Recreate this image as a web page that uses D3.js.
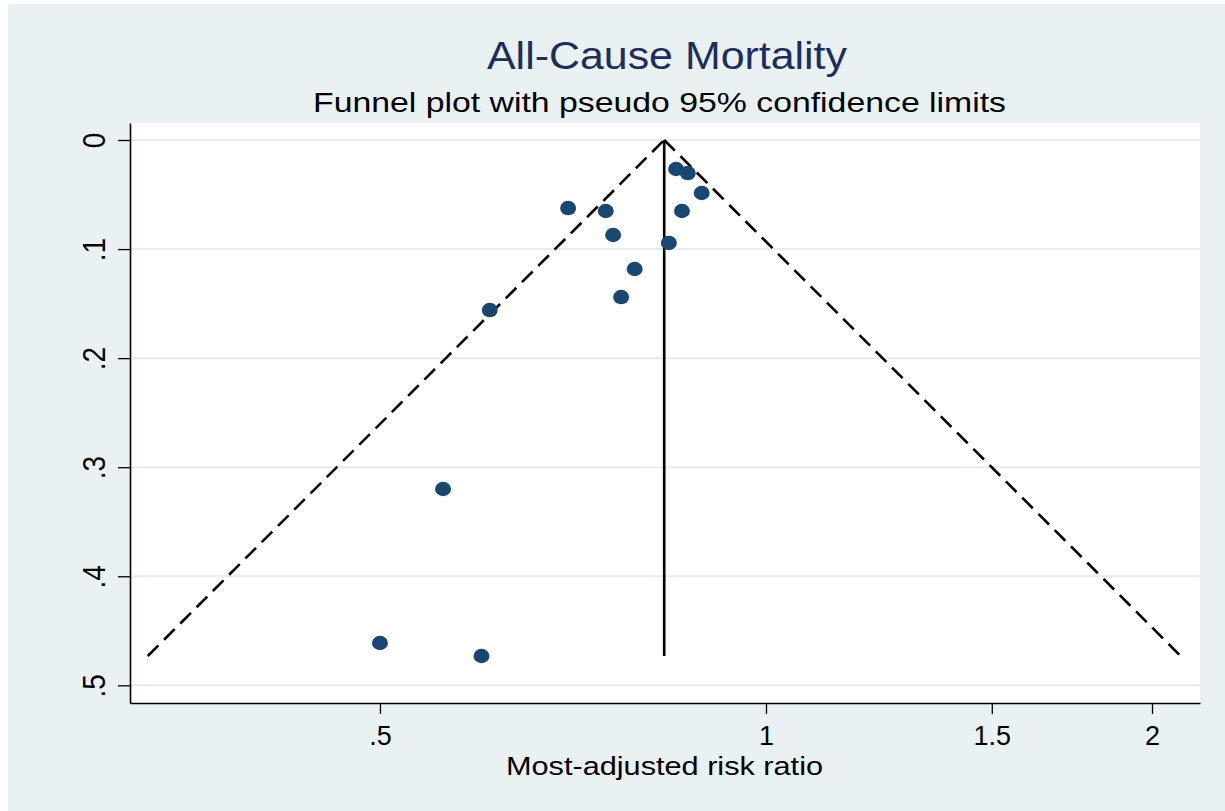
<!DOCTYPE html>
<html>
<head>
<meta charset="utf-8">
<script src="https://cdn.jsdelivr.net/npm/d3@7"></script>
<style>
  html, body { margin: 0; padding: 0; background: #ffffff; }
  svg { display: block; font-family: "Liberation Sans", Arial, sans-serif; }
</style>
</head>
<body>
<svg id="chart" width="1225" height="811"></svg>
<script>
// ---- Data ----
const riskRatio = [0.851, 0.869, 0.891, 0.860, 0.701, 0.750, 0.760, 0.840, 0.790, 0.771, 0.609, 0.560, 0.500, 0.600];
const stdError  = [0.0266, 0.0303, 0.0486, 0.0651, 0.0624, 0.0651, 0.0871, 0.0944, 0.1183, 0.1440, 0.1559, 0.3200, 0.4612, 0.4731];
const pooledRR = 0.833;
const xTicks = [0.5, 1, 1.5, 2];
const xTickLabels = [".5", "1", "1.5", "2"];
const yTicks = [0, 0.1, 0.2, 0.3, 0.4, 0.5];
const yTickLabels = ["0", ".1", ".2", ".3", ".4", ".5"];
const titleText = "All-Cause Mortality";
const subtitleText = "Funnel plot with pseudo 95% confidence limits";
const xTitleText = "Most-adjusted risk ratio";

// ---- Layout ----
const W = 1225, H = 811;
const plot = { left: 130, right: 1200, top: 123, bottom: 703 };
const svg = d3.select("#chart");

// background
svg.append("rect").attr("x", 0).attr("y", 0).attr("width", W).attr("height", H).attr("fill", "#ffffff");
svg.append("rect").attr("x", 8).attr("y", 4).attr("width", W - 8).attr("height", H - 4).attr("fill", "#eaf1f3");
svg.append("rect").attr("x", plot.left).attr("y", plot.top)
  .attr("width", plot.right - plot.left).attr("height", plot.bottom - plot.top).attr("fill", "#ffffff");

// scales
const x = d3.scaleLog().domain([0.3192, 2.180]).range([plot.left, plot.right]);
const y = d3.scaleLinear().domain([-0.01559, 0.5162]).range([plot.top, plot.bottom]);

// gridlines
svg.append("g").selectAll("line").data(yTicks).join("line")
  .attr("x1", plot.left).attr("x2", plot.right)
  .attr("y1", d => y(d)).attr("y2", d => y(d))
  .attr("stroke", "#e4ecef").attr("stroke-width", 2);

// funnel (pseudo 95% CI limits) and pooled line
const seMax = d3.max(stdError);
const z = 1.96;
const lp = Math.log(pooledRR);
const leftLine = [[Math.exp(lp - z * seMax), seMax], [pooledRR, 0]];
const rightLine = [[pooledRR, 0], [Math.exp(lp + z * seMax), seMax]];
const line = d3.line().x(d => x(d[0])).y(d => y(d[1]));
[leftLine, rightLine].forEach(pts => {
  svg.append("path").attr("d", line(pts))
    .attr("fill", "none").attr("stroke", "#000").attr("stroke-width", 2.6)
    .attr("stroke-dasharray", "15,8");
});
svg.append("path").attr("d", line([[pooledRR, 0], [pooledRR, seMax]]))
  .attr("fill", "none").attr("stroke", "#000").attr("stroke-width", 2.6);

// points
svg.append("g").selectAll("ellipse").data(riskRatio).join("ellipse")
  .attr("cx", d => x(d)).attr("cy", (d, i) => y(stdError[i]))
  .attr("rx", 8).attr("ry", 7.2).attr("fill", "#1a476f");

// axes
const xAxis = d3.axisBottom(x).tickValues(xTicks).tickFormat((d, i) => xTickLabels[i]).tickSize(11).tickSizeOuter(0);
const gx = svg.append("g").attr("transform", `translate(0,${plot.bottom})`).call(xAxis);
gx.select(".domain").attr("stroke", "#000").attr("stroke-width", 1.6);
gx.selectAll(".tick line").attr("stroke", "#000").attr("stroke-width", 1.3);
gx.selectAll(".tick text").attr("font-size", 27).attr("fill", "#000")
  .attr("font-family", "Liberation Sans, Arial, sans-serif")
  .attr("dy", null).attr("y", 42);

const yAxis = d3.axisLeft(y).tickValues(yTicks).tickFormat((d, i) => yTickLabels[i]).tickSize(12).tickSizeOuter(0);
const gy = svg.append("g").attr("transform", `translate(${plot.left},0)`).call(yAxis);
gy.select(".domain").attr("stroke", "#000").attr("stroke-width", 1.6);
gy.selectAll(".tick line").attr("stroke", "#000").attr("stroke-width", 1.3);
gy.selectAll(".tick text").remove();
gy.selectAll(".tick").append("text")
  .attr("transform", "translate(-25,0) scale(1.15,1) rotate(-90)")
  .attr("text-anchor", "middle")
  .attr("font-size", 28).attr("fill", "#000")
  .attr("font-family", "Liberation Sans, Arial, sans-serif")
  .text((d, i) => yTickLabels[i]);

// titles
svg.append("text").attr("x", 667).attr("y", 69).attr("text-anchor", "middle")
  .attr("font-size", 38).attr("fill", "#1d2d5c")
  .attr("textLength", 360).attr("lengthAdjust", "spacingAndGlyphs")
  .text(titleText);
svg.append("text").attr("x", 659.5).attr("y", 112).attr("text-anchor", "middle")
  .attr("font-size", 28).attr("fill", "#000")
  .attr("textLength", 693).attr("lengthAdjust", "spacingAndGlyphs")
  .text(subtitleText);
svg.append("text").attr("x", 664.5).attr("y", 775).attr("text-anchor", "middle")
  .attr("font-size", 26).attr("fill", "#000")
  .attr("textLength", 317).attr("lengthAdjust", "spacingAndGlyphs")
  .text(xTitleText);
</script>
</body>
</html>
